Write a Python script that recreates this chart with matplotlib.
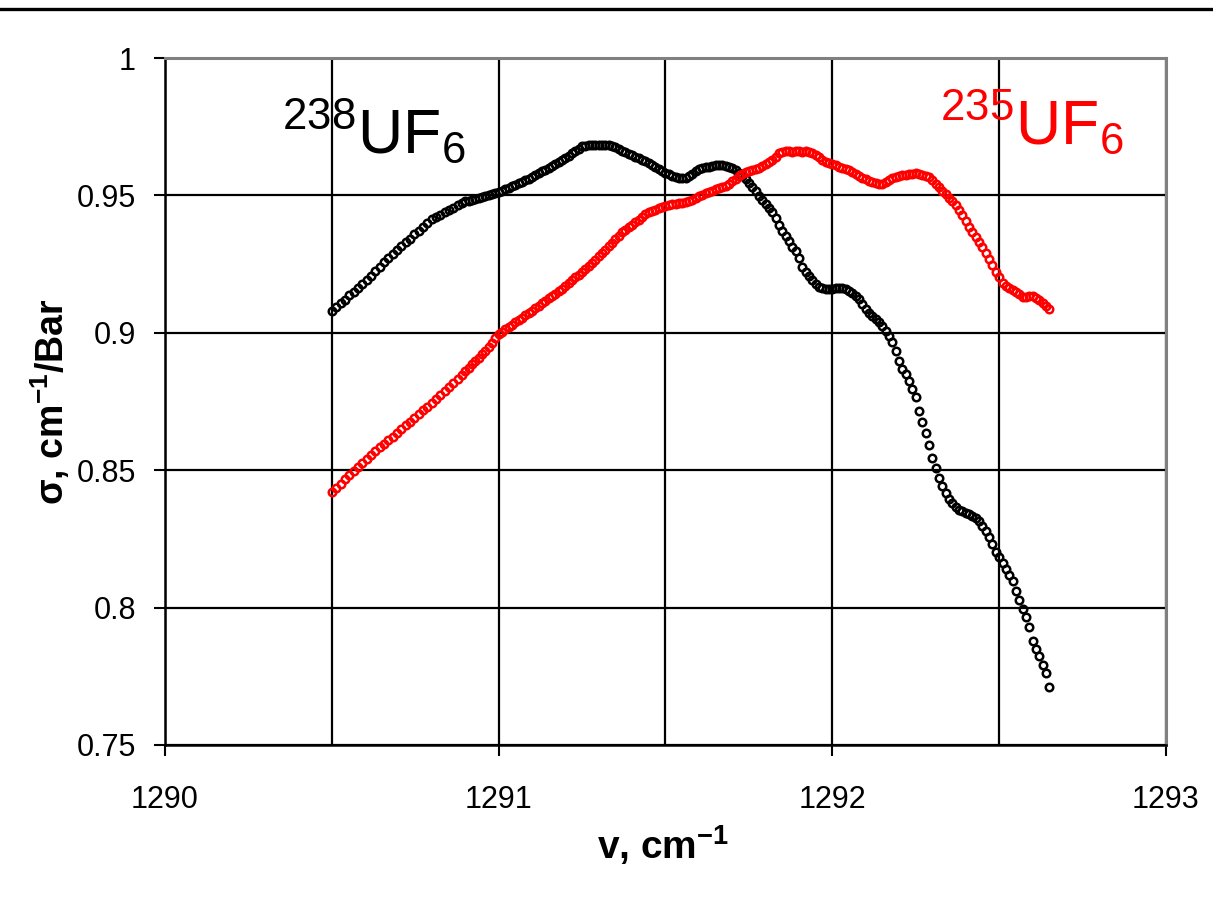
import matplotlib
matplotlib.use("Agg")
import matplotlib.pyplot as plt
from matplotlib.lines import Line2D
from matplotlib.ticker import MultipleLocator, FuncFormatter

plt.rcParams['font.family'] = ['Liberation Sans', 'DejaVu Sans']
plt.rcParams['mathtext.fontset'] = 'custom'
plt.rcParams['mathtext.rm'] = 'Liberation Sans'
plt.rcParams['mathtext.bf'] = 'Liberation Sans:bold'

# wavenumber grid (cm-1)
wavenumber = [
    1290.500, 1290.513, 1290.526, 1290.539, 1290.552, 1290.565, 1290.578, 1290.591, 1290.604, 1290.617,
    1290.630, 1290.643, 1290.656, 1290.669, 1290.682, 1290.695, 1290.708, 1290.721, 1290.734, 1290.747,
    1290.760, 1290.773, 1290.786, 1290.799, 1290.812, 1290.825, 1290.838, 1290.851, 1290.864, 1290.877,
    1290.890,
    1290.90, 1290.91, 1290.92, 1290.93, 1290.94, 1290.95, 1290.96, 1290.97, 1290.98, 1290.99,
    1291.00, 1291.01, 1291.02, 1291.03, 1291.04, 1291.05, 1291.06, 1291.07, 1291.08, 1291.09,
    1291.10, 1291.11, 1291.12, 1291.13, 1291.14, 1291.15, 1291.16, 1291.17, 1291.18, 1291.19,
    1291.20, 1291.21, 1291.22, 1291.23, 1291.24, 1291.25, 1291.26, 1291.27, 1291.28, 1291.29,
    1291.30, 1291.31, 1291.32, 1291.33, 1291.34, 1291.35, 1291.36, 1291.37, 1291.38, 1291.39,
    1291.40, 1291.41, 1291.42, 1291.43, 1291.44, 1291.45, 1291.46, 1291.47, 1291.48, 1291.49,
    1291.50, 1291.51, 1291.52, 1291.53, 1291.54, 1291.55, 1291.56, 1291.57, 1291.58, 1291.59,
    1291.60, 1291.61, 1291.62, 1291.63, 1291.64, 1291.65, 1291.66, 1291.67, 1291.68, 1291.69,
    1291.70, 1291.71, 1291.72, 1291.73, 1291.74, 1291.75, 1291.76, 1291.77, 1291.78, 1291.79,
    1291.80, 1291.81, 1291.82, 1291.83, 1291.84, 1291.85, 1291.86, 1291.87, 1291.88, 1291.89,
    1291.90, 1291.91, 1291.92, 1291.93, 1291.94, 1291.95, 1291.96, 1291.97, 1291.98, 1291.99,
    1292.00, 1292.01, 1292.02, 1292.03, 1292.04, 1292.05, 1292.06, 1292.07, 1292.08, 1292.09,
    1292.10, 1292.11, 1292.12, 1292.13, 1292.14, 1292.15, 1292.16, 1292.17, 1292.18, 1292.19,
    1292.20, 1292.21, 1292.22, 1292.23, 1292.24, 1292.25, 1292.26, 1292.27, 1292.28, 1292.29,
    1292.30, 1292.31, 1292.32, 1292.33, 1292.34, 1292.35, 1292.36, 1292.37, 1292.38, 1292.39,
    1292.40, 1292.41, 1292.42, 1292.43, 1292.44, 1292.45, 1292.46, 1292.47, 1292.48, 1292.49,
    1292.50, 1292.51, 1292.52, 1292.53, 1292.54, 1292.55, 1292.56, 1292.57, 1292.58, 1292.59,
    1292.60, 1292.61, 1292.62, 1292.63, 1292.64, 1292.65,
]

# 238UF6 cross section, cm-1/Bar
sigma_238 = [
    0.9080, 0.9095, 0.9108, 0.9121, 0.9137, 0.9150, 0.9163, 0.9178, 0.9192, 0.9208,
    0.9225, 0.9240, 0.9257, 0.9273, 0.9287, 0.9300, 0.9315, 0.9329, 0.9343, 0.9358,
    0.9372, 0.9386, 0.9401, 0.9413, 0.9422, 0.9430, 0.9440, 0.9448, 0.9455, 0.9464,
    0.9474,
    0.9478, 0.9481, 0.9484, 0.9488, 0.9491, 0.9494, 0.9497, 0.9501, 0.9504, 0.9508,
    0.9512, 0.9517, 0.9522, 0.9528, 0.9533, 0.9539, 0.9544, 0.9550, 0.9555, 0.9561,
    0.9567, 0.9574, 0.9580, 0.9587, 0.9594, 0.9601, 0.9608, 0.9615, 0.9622, 0.9628,
    0.9636, 0.9645, 0.9653, 0.9662, 0.9670, 0.9678, 0.9681, 0.9682, 0.9682, 0.9683,
    0.9683, 0.9683, 0.9682, 0.9682, 0.9680, 0.9676, 0.9670, 0.9663, 0.9657, 0.9651,
    0.9646, 0.9641, 0.9636, 0.9630, 0.9625, 0.9619, 0.9611, 0.9603, 0.9595, 0.9587,
    0.9581, 0.9577, 0.9572, 0.9568, 0.9564, 0.9563, 0.9565, 0.9569, 0.9578, 0.9588,
    0.9597, 0.9601, 0.9603, 0.9605, 0.9607, 0.9609, 0.9610, 0.9610, 0.9608, 0.9605,
    0.9601, 0.9593, 0.9582, 0.9571, 0.9560, 0.9546, 0.9531, 0.9515, 0.9499, 0.9484,
    0.9470, 0.9455, 0.9440, 0.9418, 0.9394, 0.9372, 0.9353, 0.9334, 0.9314, 0.9296,
    0.9272, 0.9238, 0.9220, 0.9205, 0.9192, 0.9178, 0.9168, 0.9163, 0.9160, 0.9158,
    0.9160, 0.9162, 0.9163, 0.9163, 0.9159, 0.9152, 0.9145, 0.9135, 0.9122, 0.9106,
    0.9088, 0.9072, 0.9061, 0.9050, 0.9039, 0.9024, 0.9005, 0.8988, 0.8967, 0.8933,
    0.8899, 0.8870, 0.8849, 0.8825, 0.8795, 0.8765, 0.8715, 0.8674, 0.8636, 0.8592,
    0.8545, 0.8507, 0.8470, 0.8443, 0.8418, 0.8396, 0.8381, 0.8366, 0.8355, 0.8350,
    0.8345, 0.8339, 0.8334, 0.8326, 0.8316, 0.8298, 0.8280, 0.8258, 0.8230, 0.8204,
    0.8184, 0.8164, 0.8140, 0.8117, 0.8095, 0.8062, 0.8028, 0.7996, 0.7966, 0.7930,
    0.7880, 0.7851, 0.7823, 0.7792, 0.7763, 0.7712,
]

# 235UF6 cross section, cm-1/Bar
sigma_235 = [
    0.8420, 0.8436, 0.8450, 0.8468, 0.8482, 0.8498, 0.8513, 0.8527, 0.8541, 0.8556,
    0.8570, 0.8584, 0.8597, 0.8610, 0.8622, 0.8635, 0.8649, 0.8663, 0.8676, 0.8690,
    0.8703, 0.8718, 0.8731, 0.8745, 0.8760, 0.8774, 0.8789, 0.8803, 0.8818, 0.8833,
    0.8848,
    0.8860, 0.8872, 0.8885, 0.8897, 0.8909, 0.8922, 0.8935, 0.8948, 0.8964, 0.8980,
    0.8995, 0.9004, 0.9013, 0.9021, 0.9030, 0.9038, 0.9046, 0.9055, 0.9063, 0.9072,
    0.9080, 0.9089, 0.9098, 0.9107, 0.9116, 0.9125, 0.9134, 0.9143, 0.9152, 0.9161,
    0.9170, 0.9181, 0.9191, 0.9202, 0.9212, 0.9223, 0.9233, 0.9244, 0.9254, 0.9265,
    0.9278, 0.9290, 0.9303, 0.9315, 0.9328, 0.9340, 0.9353, 0.9365, 0.9374, 0.9384,
    0.9393, 0.9403, 0.9412, 0.9422, 0.9431, 0.9438, 0.9443, 0.9448, 0.9453, 0.9458,
    0.9462, 0.9466, 0.9468, 0.9470, 0.9472, 0.9473, 0.9475, 0.9479, 0.9485, 0.9490,
    0.9496, 0.9501, 0.9507, 0.9512, 0.9517, 0.9522, 0.9526, 0.9531, 0.9536, 0.9543,
    0.9552, 0.9561, 0.9570, 0.9578, 0.9584, 0.9588, 0.9593, 0.9597, 0.9601, 0.9607,
    0.9614, 0.9621, 0.9628, 0.9641, 0.9654, 0.9659, 0.9660, 0.9660, 0.9659, 0.9660,
    0.9660, 0.9659, 0.9660, 0.9659, 0.9655, 0.9647, 0.9638, 0.9630, 0.9623, 0.9617,
    0.9613, 0.9609, 0.9605, 0.9601, 0.9597, 0.9591, 0.9584, 0.9577, 0.9571, 0.9564,
    0.9559, 0.9554, 0.9549, 0.9544, 0.9540, 0.9542, 0.9548, 0.9556, 0.9562, 0.9568,
    0.9571, 0.9573, 0.9575, 0.9577, 0.9578, 0.9580, 0.9579, 0.9576, 0.9572, 0.9567,
    0.9557, 0.9543, 0.9530, 0.9516, 0.9504, 0.9491, 0.9478, 0.9465, 0.9448, 0.9427,
    0.9407, 0.9386, 0.9368, 0.9350, 0.9332, 0.9314, 0.9292, 0.9268, 0.9245, 0.9223,
    0.9202, 0.9182, 0.9172, 0.9164, 0.9156, 0.9149, 0.9140, 0.9131, 0.9132, 0.9134,
    0.9135, 0.9127, 0.9119, 0.9110, 0.9098, 0.9086,
]

W, H = 1213, 917
fig = plt.figure(figsize=(W / 100, H / 100), dpi=100)
ax = fig.add_axes([165 / W, 1 - 745 / H, (1166 - 165) / W, (745 - 58) / H])

ax.plot(wavenumber, sigma_238, 'o', ms=5.4, mfc='none', mec='black', mew=1.8, ls='none')
ax.plot(wavenumber, sigma_235, 'o', ms=5.4, mfc='none', mec='red', mew=1.8, ls='none')

ax.set_xlim(1290, 1293)
ax.set_ylim(0.75, 1.0)
ax.xaxis.set_major_locator(MultipleLocator(1))
ax.xaxis.set_minor_locator(MultipleLocator(0.5))
ax.yaxis.set_major_locator(MultipleLocator(0.05))
ax.yaxis.set_major_formatter(FuncFormatter(lambda v, p: '%g' % round(v, 2)))
ax.xaxis.set_major_formatter(FuncFormatter(lambda v, p: '%d' % round(v)))
ax.grid(which='both', color='black', lw=1.6)
ax.tick_params(axis='x', which='major', direction='out', length=8, width=1.5,
               pad=21, labelsize=22)
ax.tick_params(axis='x', which='minor', length=0)
ax.tick_params(axis='y', direction='out', length=8, width=1.5, pad=13, labelsize=22)

for side in ['top', 'right']:
    ax.spines[side].set_color('#808080')
    ax.spines[side].set_linewidth(2.2)
for side in ['left', 'bottom']:
    ax.spines[side].set_color('black')
    ax.spines[side].set_linewidth(1.8)

ax.set_xlabel('v, cm$^{\\mathbf{-1}}$', fontsize=28, fontweight='bold')
ax.xaxis.set_label_coords(0.4975, -0.114)
ax.set_ylabel('σ, cm$^{\\mathbf{-1}}$/Bar', fontsize=27, fontweight='bold')
ax.yaxis.set_label_coords(-0.093, 0.5)

ax.text(1290.351, 0.9655, r'$\mathregular{^{238}UF_6}$', fontsize=45, color='black',
        ha='left', va='baseline')
ax.text(1292.323, 0.9688, r'$\mathregular{^{235}UF_6}$', fontsize=45, color='red',
        ha='left', va='baseline')

fig.add_artist(Line2D([0, 1], [1 - 8.5 / H] * 2, transform=fig.transFigure,
                      color='black', lw=2.4))

fig.savefig('out.png', dpi=100)
